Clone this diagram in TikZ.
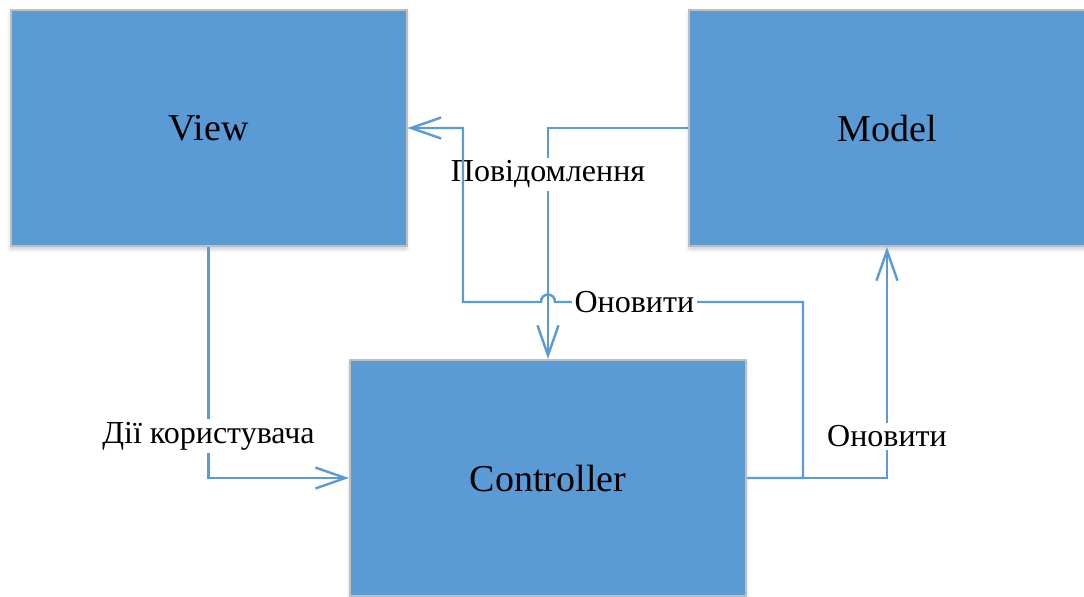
\documentclass[tikz,border=0pt]{standalone}
\usepackage{fontspec}
\setmainfont{Liberation Serif}
\usetikzlibrary{calc, arrows.meta, shadows.blur}
\definecolor{mvcfill}{HTML}{5B9BD5}
\definecolor{mvcline}{HTML}{5B9BD5}
\definecolor{mvcedge}{HTML}{BFBFBF}
\newcommand\hopwidth{7}
\tikzset{
  softshadow/.style={blur shadow={shadow blur steps=5,
    shadow xshift=0pt, shadow yshift=-1.5pt, shadow opacity=20}},
  mvcbox/.style={rectangle, fill=mvcfill, draw=mvcedge, line width=1pt,
    minimum width=198pt, minimum height=118pt, inner sep=0pt,
    font=\fontsize{19}{22}\selectfont, softshadow},
  flow/.style={draw=mvcline, line width=1.2pt,
    -{Straight Barb[length=15pt, width=10.5pt]}},
  flowlabel/.style={fill=white, inner sep=1.5pt, text=black,
    font=\fontsize{16}{19}\selectfont},
}

\begin{document}
\begin{tikzpicture}[x=0.5pt, y=-0.5pt]
\useasboundingbox (0,0) rectangle (1084,596);
% boxes
\node[mvcbox] (view)  at (208.5,128) {View};
\node[mvcbox] (model) at (887,128)   {Model};
\node[mvcbox] (ctrl)  at (548,478)   {Controller};
% bends of the long update line
\coordinate (upd1) at (803,302);
\coordinate (upd2) at (463,302);
\coordinate (hop) at (ctrl.north |- upd1);
% connectors
\draw[flow] (view.south) |- node[flowlabel, pos=0.41] {Дії користувача} (ctrl.west);
\draw[flow] (model.west) -| node[flowlabel, pos=0.6] {Повідомлення} (ctrl.north);
\draw[flow] (ctrl.east) -- (ctrl.east -| upd1) -- (upd1)
  -- node[flowlabel, pos=0.68] {Оновити} ($(hop)+(\hopwidth,0)$)
  .. controls ($(hop)+(\hopwidth,-10)$) and ($(hop)+(-\hopwidth,-10)$) .. ($(hop)+(-\hopwidth,0)$)
  -- (upd2) |- (view.east);
\draw[flow] (ctrl.east) -| node[flowlabel, pos=0.59] {Оновити} (model.south);
\end{tikzpicture}
\end{document}
